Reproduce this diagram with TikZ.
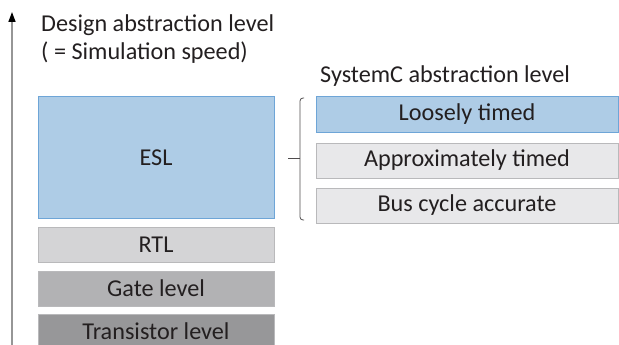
\documentclass[tikz,border=0pt]{standalone}
\usepackage{fontspec}
\setmainfont{Carlito}
\usetikzlibrary{positioning,arrows.meta}
\definecolor{textdark}{RGB}{35,31,32}
\definecolor{eslfill}{RGB}{174,204,230}
\definecolor{eslline}{RGB}{110,165,215}
\definecolor{rtlfill}{RGB}{212,212,214}
\definecolor{gatefill}{RGB}{178,178,180}
\definecolor{transfill}{RGB}{151,151,153}
\definecolor{tlmfill}{RGB}{232,232,234}
\definecolor{boxline}{RGB}{185,185,187}
\definecolor{axisgray}{RGB}{150,150,150}

\begin{document}
\begin{tikzpicture}[
    x=1pt, y=-1pt,
    level/.style={rectangle, draw=boxline, line width=1pt, minimum width=236pt, minimum height=35pt, inner sep=0pt, text=textdark, font=\fontsize{24.2}{29}\selectfont},
    tlm/.style={level, fill=tlmfill, minimum width=302pt},
    title/.style={anchor=base west, inner sep=0pt, text=textdark, font=\fontsize{24.2}{29}\selectfont},
    axis/.style={draw=axisgray, line width=1.5pt, -{Triangle[width=7pt,length=10pt,black]}},
    brace/.style={draw=textdark!80, line width=0.8pt, rounded corners=3pt}
]
\useasboundingbox (0,0) rectangle (619,345);

% Abstraction axis
\coordinate (axisbottom) at (12,348);
\coordinate (axistop) at (12,12);
\draw[axis] (axisbottom) -- (axistop);
\node[title] (axistitle) at (41,31.5) {Design abstraction level};
\node[title] (axisnote) at (41,60) {( = Simulation speed)};

% Hardware levels
\node[level, fill=eslfill, draw=eslline, minimum height=121pt] (esl) at (156,157.5) {ESL};
\node[level, fill=rtlfill, below=8pt of esl] (rtl) {RTL};
\node[level, fill=gatefill, below=8pt of rtl] (gate) {Gate level};
\node[level, fill=transfill, below=7pt of gate] (trans) {Transistor level};

% SystemC levels
\node[title] (sctitle) at (320,82) {SystemC abstraction level};
\node[tlm, fill=eslfill, draw=eslline] (loose) at (467,114.5) {Loosely timed};
\node[tlm, below=10pt of loose] (approx) {Approximately timed};
\node[tlm, below=9pt of approx] (bus) {Bus cycle accurate};

% Brace
\coordinate (bracetop) at (304,98);
\coordinate (bracemid) at (300,158);
\coordinate (bracebot) at (304,220);
\coordinate (bracetip) at (288,158);
\draw[brace] (bracetop) -| (bracemid) |- (bracebot);
\draw[brace] (bracemid) -- (bracetip);

\end{tikzpicture}
\end{document}
